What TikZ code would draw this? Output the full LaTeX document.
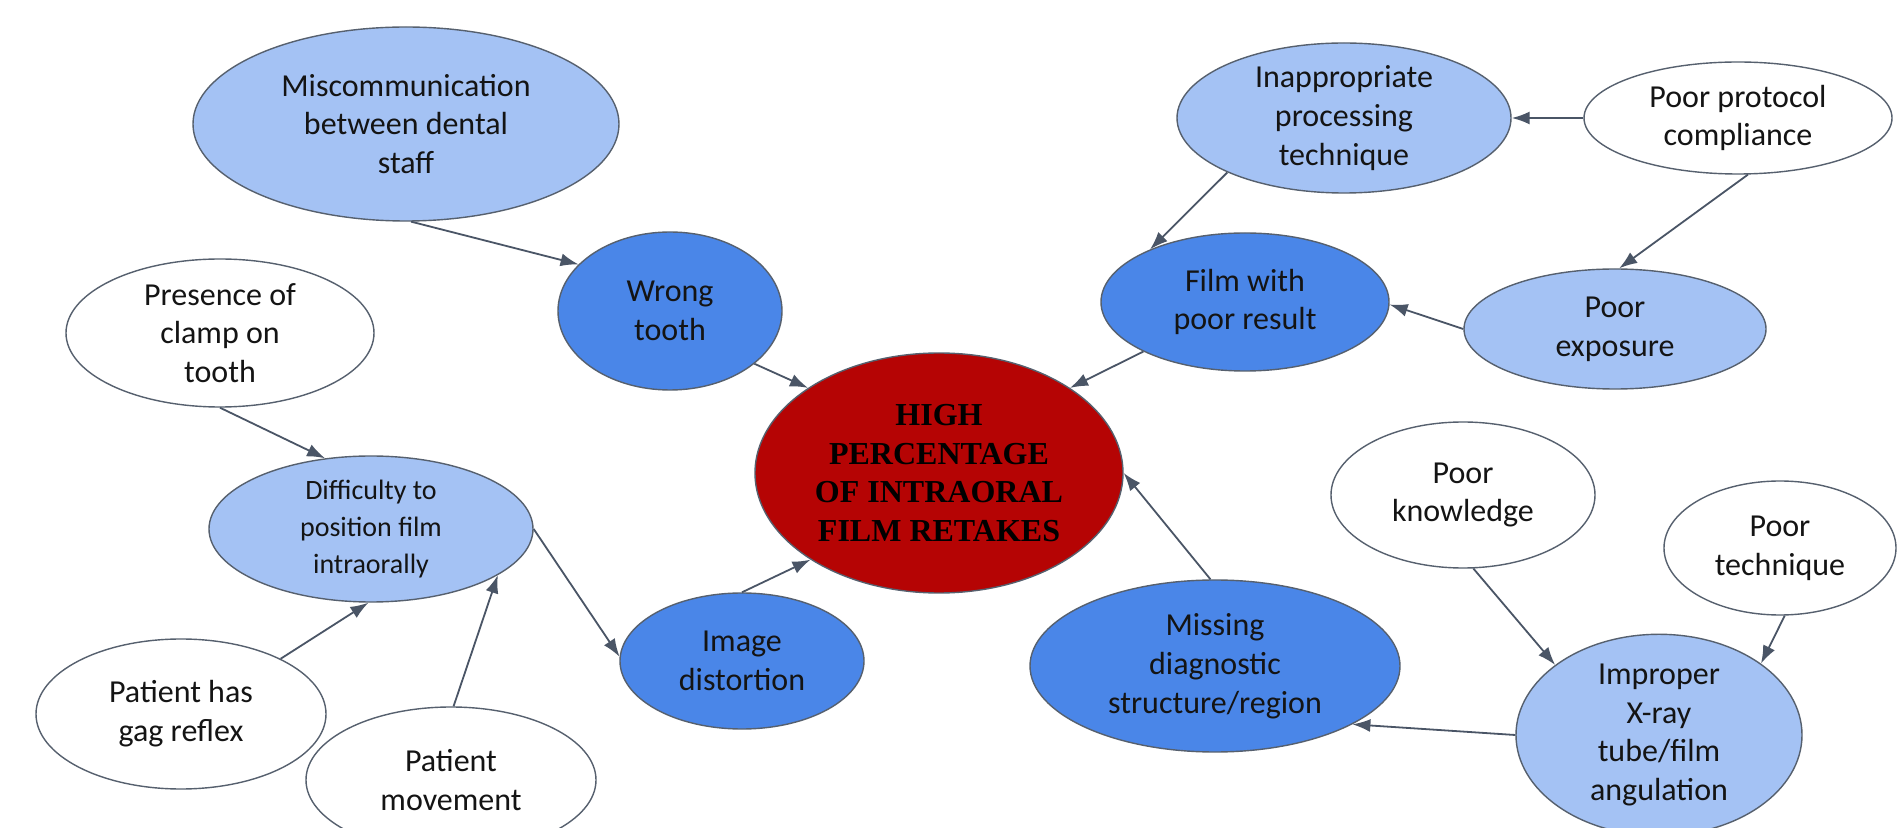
\documentclass[tikz,border=0pt]{standalone}
\usepackage{fontspec}
\setmainfont{Carlito}
\newfontfamily\ctrfont{Liberation Serif}
\usetikzlibrary{shapes.geometric,arrows.meta}
\definecolor{darkblue}{HTML}{4A86E8}
\definecolor{lightblue}{HTML}{A4C2F4}
\definecolor{redc}{HTML}{B50404}
\definecolor{edgec}{HTML}{56606E}
\definecolor{arrowc}{HTML}{4A5566}
\begin{document}
\begin{tikzpicture}[x=0.5pt,y=-0.5pt,
 base/.style={ellipse, draw=edgec, line width=0.7pt, inner sep=0pt, align=center, font=\fontsize{16}{19.4}\selectfont, text=black!92},
 dark/.style={base, fill=darkblue},
 light/.style={base, fill=lightblue},
 plain/.style={base, fill=white},
 core/.style={base, fill=redc, font=\ctrfont\bfseries\fontsize{16}{19.4}\selectfont, text=black},
 conn/.style={draw=arrowc, line width=0.9pt, -{Latex[length=9pt,width=6.5pt]}}
]
\fill[white] (0,0) rectangle (1897,828);
\useasboundingbox (0,0) rectangle (1897,828);

\node[light, minimum width=213pt, minimum height=97pt] (misc) at (406,124) {Miscommunication\\between dental\\staff};
\node[dark, minimum width=112pt, minimum height=79pt] (wrong) at (670,311) {Wrong\\tooth};
\node[plain, minimum width=154pt, minimum height=74pt] (clamp) at (220,333) {Presence of\\clamp on\\tooth};
\node[light, minimum width=162pt, minimum height=73pt, font=\fontsize{14}{18.5}\selectfont] (diff) at (371,529) {Difficulty to\\position film\\intraorally};
\node[plain, minimum width=145pt, minimum height=75pt] (gag) at (181,714) {Patient has\\gag reflex};
\node[plain, minimum width=145pt, minimum height=73pt] (move) at (451,780) {Patient\\movement};
\node[dark, minimum width=122pt, minimum height=68pt] (img) at (742,661) {Image\\distortion};
\node[core, minimum width=184pt, minimum height=120pt] (center) at (939,473) {HIGH\\PERCENTAGE\\OF INTRAORAL\\FILM RETAKES};
\node[dark, minimum width=144pt, minimum height=69pt] (film) at (1245,302) {Film with\\poor result};
\node[light, minimum width=167pt, minimum height=75pt] (inap) at (1344,118) {Inappropriate\\processing\\technique};
\node[plain, minimum width=154pt, minimum height=56pt] (proto) at (1738,118) {Poor protocol\\compliance};
\node[light, minimum width=151pt, minimum height=60pt] (expo) at (1615,329) {Poor\\exposure};
\node[plain, minimum width=132pt, minimum height=73pt] (know) at (1463,495) {Poor\\knowledge};
\node[plain, minimum width=116pt, minimum height=67pt] (tech) at (1780,548) {Poor\\technique};
\node[light, minimum width=143pt, minimum height=98pt] (impr) at (1659,735) {Improper\\X-ray\\tube/film\\angulation};
\node[dark, minimum width=185pt, minimum height=86pt] (miss) at (1215,666) {Missing\\diagnostic\\structure/region};

\draw[conn] (misc.-87) -- (wrong.153);
\draw[conn] (wrong.-32) -- (center.147);
\draw[conn] (film.206) -- (center.33);
\draw[conn] (inap.205) -- (film.151);
\draw[conn] (proto.west) -- (inap.east);
\draw[conn] (proto.-80) -- (expo.86);
\draw[conn] (expo.180) -- (film.-1);
\draw[conn] (clamp.-90) -- (diff.123);
\draw[conn] (gag.29) -- (diff.268);
\draw[conn] (move.88) -- (diff.-20);
\draw[conn] (diff.0) -- (img.178);
\draw[conn] (img.90) -- (center.214);
\draw[conn] (miss.93) -- (center.0);
\draw[conn] (know.-82) -- (impr.146);
\draw[conn] (tech.-86) -- (impr.35);
\draw[conn] (impr.180) -- (miss.-23);
\end{tikzpicture}
\end{document}
